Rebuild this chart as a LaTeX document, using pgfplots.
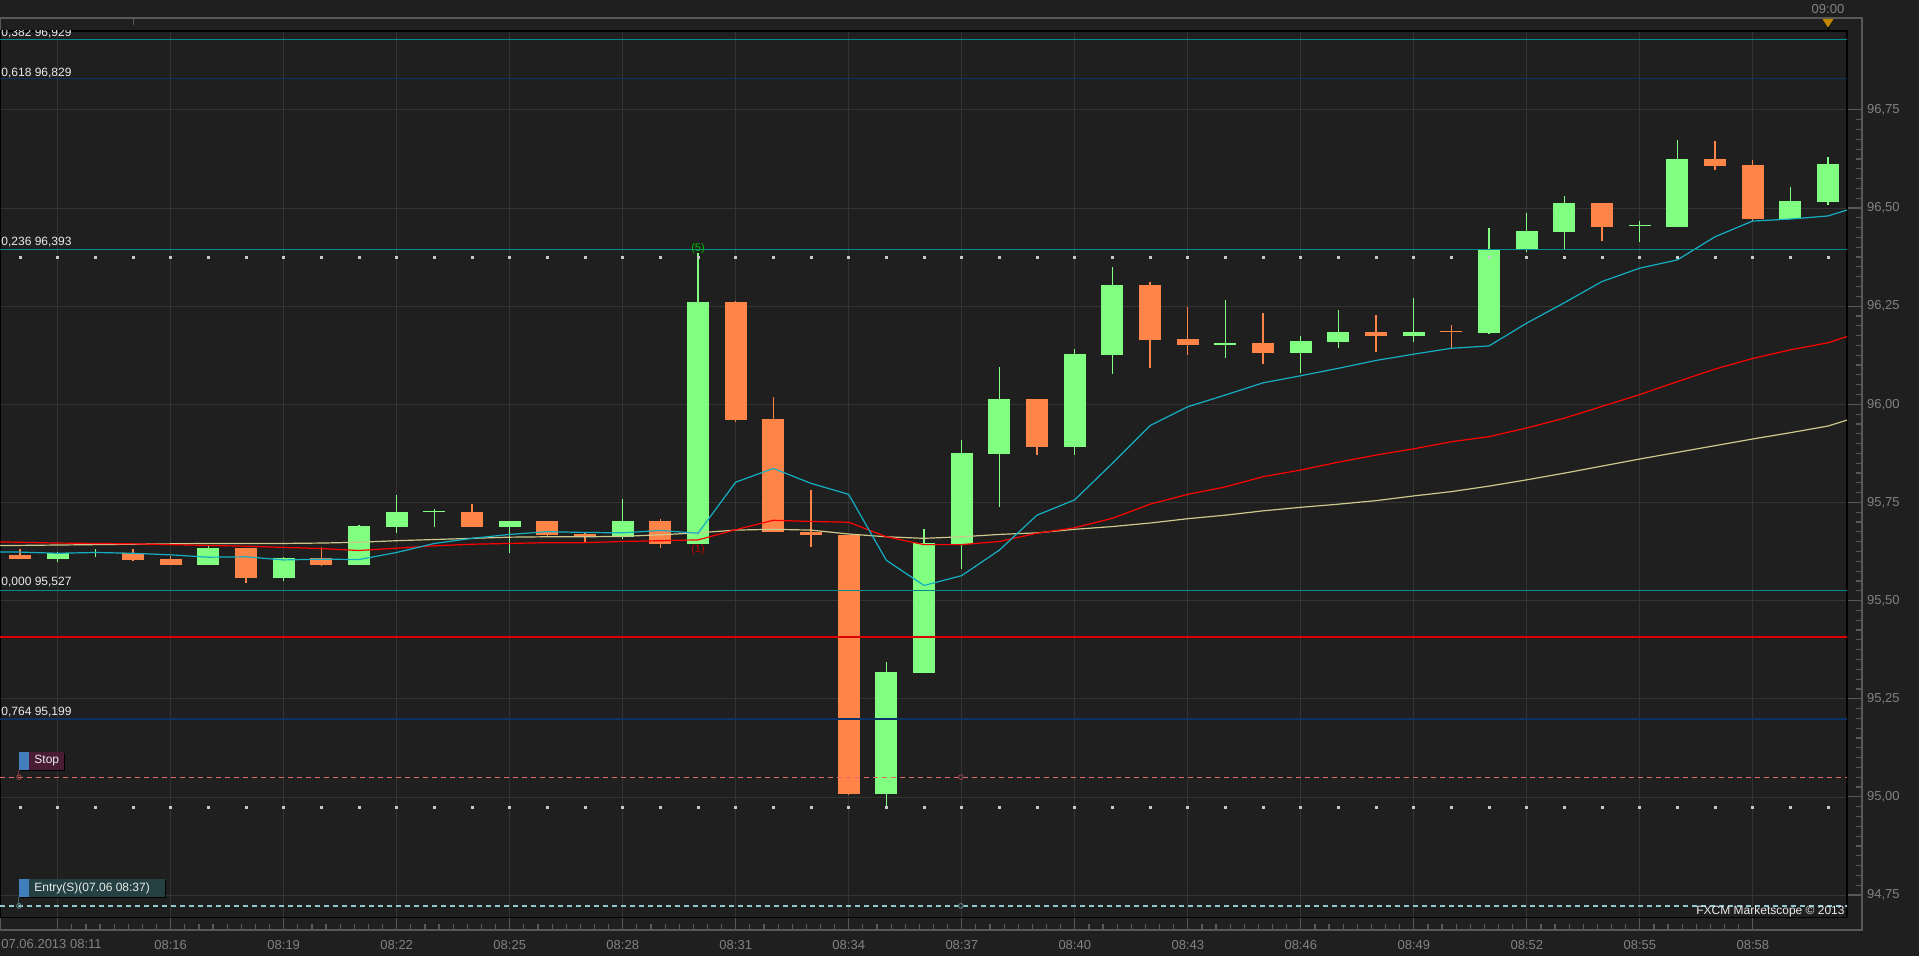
\documentclass[border=0pt]{standalone}
\usepackage{fontspec}
\setmainfont{Liberation Sans}
\usepackage{pgfplots}
\usepackage{pgfplotstable}
\pgfplotsset{compat=1.18}
\definecolor{bgc}{RGB}{31,31,31}
\definecolor{gridc}{RGB}{52,52,52}
\definecolor{framec}{RGB}{88,88,88}
\definecolor{tickc}{RGB}{130,130,130}
\definecolor{cgreen}{RGB}{128,255,128}
\definecolor{corange}{RGB}{255,132,72}
\definecolor{teal1}{RGB}{0,140,145}
\definecolor{navy1}{RGB}{10,50,100}
\definecolor{hred}{RGB}{220,0,0}
\definecolor{macyan}{RGB}{20,175,195}
\definecolor{mared}{RGB}{255,0,0}
\definecolor{makhaki}{RGB}{205,200,140}
\definecolor{stopc}{RGB}{225,105,105}
\definecolor{entryc}{RGB}{140,200,205}
\definecolor{dotc}{RGB}{200,200,200}
\definecolor{lblc}{RGB}{235,235,235}
\definecolor{boxblue}{RGB}{66,125,190}
\definecolor{stopbox}{RGB}{72,28,50}
\definecolor{entrybox}{RGB}{36,64,66}
\definecolor{markc}{RGB}{195,135,0}
\newcommand{\fs}{\fontsize{6}{7}\selectfont}
\newcommand{\ft}{\fontsize{6.5}{7.5}\selectfont}

\pgfplotstableread{
t o h l c
13 95.606 95.625 95.599 95.622
14 95.621 95.632 95.611 95.622
17 95.592 95.642 95.592 95.635
19 95.559 95.611 95.551 95.609
21 95.592 95.694 95.592 95.690
22 95.689 95.769 95.673 95.725
23 95.725 95.734 95.689 95.726
25 95.689 95.703 95.622 95.703
28 95.662 95.759 95.657 95.703
30 95.645 96.385 95.645 96.261
35 95.009 95.344 94.971 95.318
36 95.316 95.683 95.316 95.647
37 95.645 95.909 95.582 95.876
38 95.875 96.095 95.740 96.014
40 95.892 96.140 95.872 96.129
41 96.126 96.350 96.078 96.304
44 96.151 96.266 96.119 96.157
46 96.131 96.174 96.080 96.162
47 96.159 96.241 96.144 96.184
49 96.174 96.271 96.159 96.184
51 96.183 96.449 96.180 96.396
52 96.393 96.488 96.389 96.442
53 96.439 96.531 96.396 96.513
55 96.454 96.467 96.414 96.455
56 96.452 96.674 96.452 96.625
59 96.472 96.554 96.472 96.518
60 96.516 96.630 96.508 96.612
}\greendata

\pgfplotstableread{
t o h l c
12 95.617 95.632 95.607 95.607
15 95.621 95.632 95.602 95.604
16 95.606 95.614 95.592 95.592
18 95.635 95.635 95.546 95.559
20 95.609 95.637 95.589 95.592
24 95.726 95.746 95.689 95.689
26 95.703 95.703 95.663 95.667
27 95.671 95.674 95.649 95.662
29 95.703 95.708 95.635 95.645
31 96.261 96.264 95.956 95.960
32 95.963 96.019 95.674 95.674
33 95.675 95.782 95.638 95.667
34 95.667 95.667 95.005 95.009
39 96.014 96.014 95.872 95.892
42 96.304 96.311 96.094 96.164
43 96.167 96.248 96.126 96.151
45 96.157 96.233 96.104 96.131
48 96.184 96.228 96.134 96.174
50 96.185 96.202 96.144 96.184
54 96.513 96.513 96.416 96.452
57 96.625 96.671 96.597 96.607
58 96.610 96.623 96.467 96.472
}\orangedata

\pgfplotstableread{
t fast mid slow
11.469 95.624 95.650 95.641
12 95.624 95.649 95.641
13 95.621 95.647 95.642
14 95.623 95.646 95.643
15 95.621 95.645 95.644
16 95.617 95.643 95.645
17 95.611 95.641 95.646
18 95.612 95.639 95.646
19 95.604 95.636 95.646
20 95.606 95.633 95.647
21 95.605 95.628 95.649
22 95.623 95.634 95.653
23 95.646 95.640 95.656
24 95.659 95.644 95.659
25 95.669 95.646 95.662
26 95.676 95.648 95.663
27 95.674 95.648 95.663
28 95.673 95.651 95.664
29 95.679 95.653 95.668
30 95.672 95.655 95.673
31 95.802 95.681 95.680
32 95.837 95.705 95.682
33 95.799 95.702 95.680
34 95.771 95.700 95.670
35 95.603 95.663 95.663
36 95.539 95.643 95.659
37 95.564 95.643 95.663
38 95.629 95.651 95.669
39 95.718 95.672 95.673
40 95.757 95.686 95.682
41 95.850 95.710 95.689
42 95.946 95.746 95.698
43 95.994 95.771 95.709
44 96.024 95.790 95.718
45 96.055 95.816 95.729
46 96.073 95.833 95.738
47 96.092 95.853 95.746
48 96.112 95.871 95.755
49 96.128 95.887 95.767
50 96.143 95.905 95.778
51 96.149 95.918 95.792
52 96.207 95.940 95.808
53 96.259 95.965 95.825
54 96.313 95.995 95.843
55 96.347 96.025 95.861
56 96.368 96.058 95.878
57 96.427 96.090 95.895
58 96.467 96.117 95.912
59 96.472 96.139 95.928
60 96.480 96.157 95.945
60.504 96.495 96.173 95.960
}\madata

\pgfplotstableread{
t up dn
12 96.374 94.973
13 96.374 94.973
14 96.374 94.973
15 96.374 94.973
16 96.374 94.973
17 96.374 94.973
18 96.374 94.973
19 96.374 94.973
20 96.374 94.973
21 96.374 94.973
22 96.374 94.973
23 96.374 94.973
24 96.374 94.973
25 96.374 94.973
26 96.374 94.973
27 96.374 94.973
28 96.374 94.973
29 96.374 94.973
30 96.374 94.973
31 96.374 94.973
32 96.374 94.973
33 96.374 94.973
34 96.374 94.973
35 96.374 94.973
36 96.374 94.973
37 96.374 94.973
38 96.374 94.973
39 96.374 94.973
40 96.374 94.973
41 96.374 94.973
42 96.374 94.973
43 96.374 94.973
44 96.374 94.973
45 96.374 94.973
46 96.374 94.973
47 96.374 94.973
48 96.374 94.973
49 96.374 94.973
50 96.374 94.973
51 96.374 94.973
52 96.374 94.973
53 96.374 94.973
54 96.374 94.973
55 96.374 94.973
56 96.374 94.973
57 96.374 94.973
58 96.374 94.973
59 96.374 94.973
60 96.374 94.973
}\dotdata

\begin{document}
\begin{tikzpicture}[x=0.5pt,y=0.5pt]
\fill[bgc] (0,0) rectangle (1919,956);
\path[use as bounding box] (0,0) rectangle (1919,956);

% outer frame with ticks and labels
\begin{axis}[at={(0pt,13pt)}, anchor=south west, scale only axis,
  width=931pt, height=456pt,
  xmin=11.469, xmax=60.898, ymin=94.661, ymax=96.984,
  axis line style={framec, line width=0.6pt},
  xtick={13,16,...,58},
  xticklabels={,08:16,08:19,08:22,08:25,08:28,08:31,08:34,08:37,08:40,08:43,08:46,08:49,08:52,08:55,08:58},
  ytick={94.75,95.00,95.25,95.50,95.75,96.00,96.25,96.50,96.75},
  minor x tick num=7, minor y tick num=9,
  xtick pos=left, ytick pos=right, yticklabel pos=right,
  tick align=inside,
  major tick length=7pt, minor tick length=3pt,
  tick style={framec, line width=0.6pt},
  ticklabel style={font=\ft, text=tickc},
  xticklabel style={yshift=-1.5pt},
  yticklabel style={xshift=-1pt, /pgf/number format/.cd, fixed, fixed zerofill, precision=2, use comma},
  /pgf/number format/assume math mode=true,
]
\end{axis}

% main plot area
\begin{axis}[at={(0pt,19.15pt)}, anchor=south west, scale only axis,
  width=923.5pt, height=443.35pt,
  xmin=11.469, xmax=60.504, ymin=94.693, ymax=96.951,
  axis background/.style={fill=bgc},
  axis line style={black, line width=0.8pt},
  xtick={13,16,...,58},
  ytick={94.75,95.00,95.25,95.50,95.75,96.00,96.25,96.50,96.75},
  xticklabels={}, yticklabels={}, major tick length=0pt,
  grid=major, grid style={gridc, line width=0.5pt},
]
% wicks
\addplot[draw=none, mark=none, forget plot, error bars/.cd, y dir=plus, y explicit, error mark=none,
  error bar style={draw=cgreen, line width=0.6pt}]
  table[x=t, y=l, y error plus expr={\thisrow{h}-\thisrow{l}}] {\greendata};
\addplot[draw=none, mark=none, forget plot, error bars/.cd, y dir=plus, y explicit, error mark=none,
  error bar style={draw=corange, line width=0.6pt}]
  table[x=t, y=l, y error plus expr={\thisrow{h}-\thisrow{l}}] {\orangedata};
% bodies
\addplot[draw=none, mark=none, forget plot, error bars/.cd, y dir=plus, y explicit, error mark=none,
  error bar style={draw=cgreen, line width=11pt}]
  table[x=t, y=o, y error plus expr={max(\thisrow{c}-\thisrow{o},0.0026)}] {\greendata};
\addplot[draw=none, mark=none, forget plot, error bars/.cd, y dir=plus, y explicit, error mark=none,
  error bar style={draw=corange, line width=11pt}]
  table[x=t, y=c, y error plus expr={max(\thisrow{o}-\thisrow{c},0.0026)}] {\orangedata};
% moving averages
\addplot[makhaki, line width=0.6pt, mark=none] table[x=t, y=slow] {\madata};
\addplot[mared, line width=0.6pt, mark=none] table[x=t, y=mid] {\madata};
\addplot[macyan, line width=0.6pt, mark=none] table[x=t, y=fast] {\madata};
% horizontal levels
\addplot[teal1, line width=0.6pt] coordinates {(11.469,96.929) (60.504,96.929)};
\addplot[navy1, line width=0.6pt] coordinates {(11.469,96.829) (60.504,96.829)};
\addplot[teal1, line width=0.6pt] coordinates {(11.469,96.394) (60.504,96.394)};
\addplot[teal1, line width=0.6pt] coordinates {(11.469,95.527) (60.504,95.527)};
\addplot[hred, line width=0.6pt] coordinates {(11.469,95.408) (60.504,95.408)};
\addplot[navy1, line width=0.6pt] coordinates {(11.469,95.199) (60.504,95.199)};
\addplot[stopc, line width=0.6pt, dash pattern=on 2.5pt off 2pt] coordinates {(11.469,95.051) (60.504,95.051)};
\addplot[entryc, line width=0.6pt, dash pattern=on 2.5pt off 2pt] coordinates {(11.469,94.723) (60.504,94.723)};
% dot rows
\addplot[only marks, mark=square*, mark size=0.5pt, dotc] table[x=t, y=up] {\dotdata};
\addplot[only marks, mark=square*, mark size=0.5pt, dotc] table[x=t, y=dn] {\dotdata};
% order markers
\addplot[only marks, mark=o, mark size=1.2pt, stopc!70!black] coordinates {(11.973,95.051) (36.98,95.051)};
\addplot[only marks, mark=o, mark size=1.2pt, entryc!70!black] coordinates {(11.973,94.723) (36.98,94.723)};

% level labels
\node[anchor=base west, inner sep=0pt, font=\fs, text=lblc] at (axis cs:11.496,96.937) {0,382 96,929};
\node[anchor=base west, inner sep=0pt, font=\fs, text=lblc] at (axis cs:11.496,96.835) {0,618 96,829};
\node[anchor=base west, inner sep=0pt, font=\fs, text=lblc] at (axis cs:11.496,96.404) {0,236 96,393};
\node[anchor=base west, inner sep=0pt, font=\fs, text=lblc] at (axis cs:11.496,95.538) {0,000 95,527};
\node[anchor=base west, inner sep=0pt, font=\fs, text=lblc] at (axis cs:11.496,95.209) {0,764 95,199};
% swing labels
\node[font=\fontsize{5.5}{6}\selectfont, text={rgb,255:red,0;green,190;blue,0}] at (axis cs:30,96.397) {(5)};
\node[font=\fontsize{5.5}{6}\selectfont, text={rgb,255:red,190;green,0;blue,0}] at (axis cs:30,95.631) {(1)};
% Stop box
\draw[stopc!50!black, line width=0.5pt] (axis cs:11.973,95.069) -- (axis cs:11.973,95.051);
\fill[black] (axis cs:12.0,95.066) rectangle (axis cs:13.195,95.112);
\fill[boxblue] (axis cs:11.973,95.069) rectangle (axis cs:12.239,95.115);
\fill[stopbox] (axis cs:12.239,95.069) rectangle (axis cs:13.168,95.115);
\node[anchor=west, inner sep=0pt, font=\fs, text=lblc] at (axis cs:12.372,95.092) {Stop};
% Entry box
\draw[entryc!50!black, line width=0.5pt] (axis cs:11.973,94.745) -- (axis cs:11.973,94.723);
\fill[black] (axis cs:12.0,94.742) rectangle (axis cs:15.876,94.788);
\fill[boxblue] (axis cs:11.973,94.745) rectangle (axis cs:12.239,94.791);
\fill[entrybox] (axis cs:12.239,94.745) rectangle (axis cs:15.849,94.791);
\node[anchor=west, inner sep=0pt, font=\fs, text=lblc] at (axis cs:12.372,94.768) {Entry(S)(07.06 08:37)};
% copyright
\node[anchor=east, inner sep=0pt, font=\fs, text=lblc] at (axis cs:60.45,94.710) {FXCM Marketscope © 2013};
\end{axis}

% decorations outside the plot area
\node[anchor=west, inner sep=0pt, font=\ft, text=tickc] at (1,12) {07.06.2013 08:11};
\node[inner sep=0pt, font=\ft, text=tickc] at (1828,947) {09:00};
\fill[markc] (1822.5,937) -- (1833.5,937) -- (1828,928.5) -- cycle;
\draw[black, line width=0.5pt] (1828,928.5) -- (1828,924);
\draw[framec, line width=0.5pt] (133,937) -- (133,931);
\end{tikzpicture}
\end{document}
